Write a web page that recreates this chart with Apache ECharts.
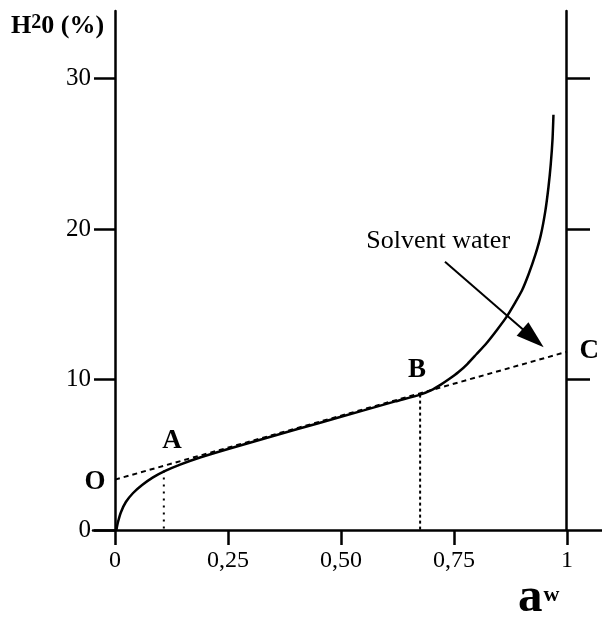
<!DOCTYPE html>
<html>
<head>
<meta charset="utf-8">
<script src="https://cdn.jsdelivr.net/npm/echarts@6/dist/echarts.min.js"></script>
<style>
  html, body { margin: 0; padding: 0; background: #fff; }
  #chart { width: 602px; height: 619px; }
</style>
</head>
<body>
<div id="chart"></div>
<script>
// sorption isotherm
const isotherm = [
  [0.003, 0], [0.0066, 0.53], [0.0133, 1.2], [0.024, 1.86], [0.04, 2.46],
  [0.06, 2.99], [0.084, 3.5], [0.111, 3.93], [0.144, 4.35], [0.188, 4.82],
  [0.254, 5.42], [0.35, 6.25], [0.45, 7.1], [0.55, 7.95], [0.62, 8.55],
  [0.675, 9.0], [0.7, 9.3], [0.72, 9.65], [0.74, 10.05], [0.76, 10.5],
  [0.78, 11.05], [0.8, 11.7], [0.82, 12.35], [0.845, 13.3], [0.867, 14.2],
  [0.885, 15.1], [0.9, 15.9], [0.915, 17.0], [0.93, 18.3], [0.942, 19.6],
  [0.952, 21.2], [0.959, 22.8], [0.964, 24.3], [0.968, 26.0], [0.97, 27.6]
]
const tangent = [[0, 3.35], [1, 11.85]]
const dropA = [[0.108, 3.95], [0.108, 0]]
const dropB = [[0.675, 9.0], [0.675, 0]]
const xTicks = [0, 0.25, 0.5, 0.75, 1]
const xLabels = ['0', '0,25', '0,50', '0,75', '1']
const yTicks = [0, 10, 20, 30]
const rightTicks = [10, 20, 30]
const pointNames = ['O', 'A', 'B', 'C']
const pointPos = [[-0.044, 3.19], [0.126, 5.92], [0.668, 10.65], [1.049, 11.91]]
const arrow = [[0.73, 17.83], [0.925, 12.75]]
const arrowText = 'Solvent water'
const arrowTextPos = [0.715, 19.23]

const serif = '"Liberation Serif", "DejaVu Serif", serif'
const black = '#000'

const myChart = echarts.init(document.getElementById('chart'))
const option = {
  animation: false,
  grid: [
    { left: 93, right: 0, top: 11, bottom: 89 },
    { left: 566, width: 36, top: 11, bottom: 89 }
  ],
  xAxis: [
    {
      type: 'value', gridIndex: 0, min: -0.0487, max: 1.0774,
      splitLine: { show: false },
      axisLine: { onZero: false, lineStyle: { color: black, width: 2.5 } },
      axisTick: { customValues: xTicks, length: 15, lineStyle: { color: black, width: 2.5 } },
      axisLabel: {
        customValues: xTicks, margin: 19, color: black,
        fontFamily: serif, fontSize: 24,
        formatter: v => xLabels[xTicks.indexOf(v)] ?? ''
      }
    },
    { type: 'value', gridIndex: 1, min: 0, max: 1, show: false }
  ],
  yAxis: [
    {
      type: 'value', gridIndex: 0, min: 0, max: 34.5,
      splitLine: { show: false },
      axisLine: { onZero: true, lineStyle: { color: black, width: 2.5 } },
      axisTick: { customValues: yTicks, length: 21, lineStyle: { color: black, width: 2.5 } },
      axisLabel: {
        customValues: yTicks, margin: 2, color: black,
        fontFamily: serif, fontSize: 25
      }
    },
    {
      type: 'value', gridIndex: 1, min: 0, max: 34.5, position: 'left',
      splitLine: { show: false },
      axisLine: { onZero: false, lineStyle: { color: black, width: 2.5 } },
      axisTick: { inside: true, customValues: rightTicks, length: 24, lineStyle: { color: black, width: 2.5 } },
      axisLabel: { show: false }
    }
  ],
  graphic: [
    {
      type: 'text', left: 11, top: 13,
      style: {
        text: 'H{s|2}0 (%)',
        fontFamily: serif, fontWeight: 'bold', fontSize: 26, fill: black,
        rich: { s: { fontFamily: serif, fontWeight: 'bold', fontSize: 20, verticalAlign: 'top', padding: [0, 0, 4, 0] } }
      }
    },
    {
      type: 'text', left: 518, top: 574,
      style: {
        text: 'a{w|w}',
        fontFamily: serif, fontWeight: 'bold', fontSize: 49, fill: black,
        rich: { w: { fontFamily: serif, fontWeight: 'bold', fontSize: 22, padding: [0, 0, 6, 1] } }
      }
    }
  ],
  series: [
    {
      type: 'line', data: tangent, symbol: 'none', silent: true,
      lineStyle: { color: black, width: 2, type: [5, 4] },
      markPoint: {
        symbol: 'circle', symbolSize: 1, silent: true,
        itemStyle: { color: 'rgba(0,0,0,0)' },
        label: { show: true, position: 'inside', color: black, fontFamily: serif, fontWeight: 'bold', fontSize: 27, formatter: p => p.name },
        data: pointNames.map((n, i) => ({ name: n, coord: pointPos[i] }))
      }
    },
    {
      type: 'line', data: dropA, symbol: 'none', silent: true,
      lineStyle: { color: black, width: 2, type: [2, 5] }
    },
    {
      type: 'line', data: dropB, symbol: 'none', silent: true,
      lineStyle: { color: black, width: 2, type: [3, 3] }
    },
    {
      type: 'line', data: isotherm, symbol: 'none', smooth: 0.2, silent: true,
      lineStyle: { color: black, width: 2.5 },
      markLine: {
        silent: true, symbol: ['none', 'triangle'], symbolSize: [18, 28],
        lineStyle: { color: black, width: 2, type: 'solid' },
        label: { show: false },
        data: [[{ coord: arrow[0] }, { coord: arrow[1] }]]
      },
      markPoint: {
        symbol: 'circle', symbolSize: 1, silent: true,
        itemStyle: { color: 'rgba(0,0,0,0)' },
        label: { show: true, position: 'inside', color: black, fontFamily: serif, fontSize: 26, formatter: () => arrowText },
        data: [{ coord: arrowTextPos }]
      }
    }
  ]
}
myChart.setOption(option)
</script>
</body>
</html>
